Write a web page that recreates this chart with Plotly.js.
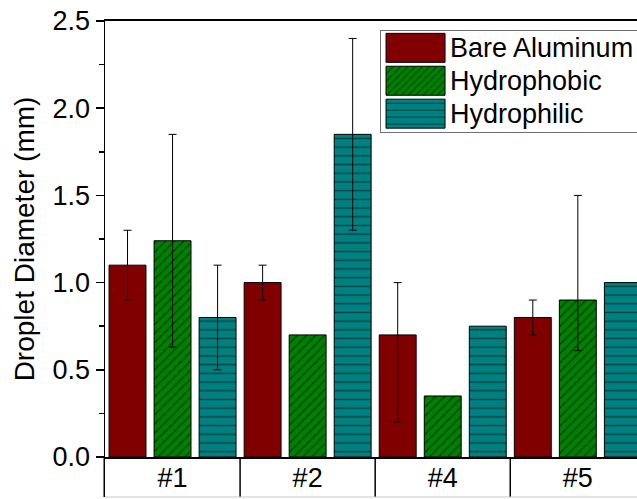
<!DOCTYPE html>
<html><head><meta charset="utf-8">
<script src="https://cdn.plot.ly/plotly-3.0.1.min.js"></script>
<style>html,body{margin:0;padding:0;background:#fff;}</style>
</head><body>
<div id="chart" style="width:637px;height:499px;"></div>
<script>
// ---- data ----
const categories = ['#1', '#2', '#4', '#5'];
const seriesNames = ['Bare Aluminum', 'Hydrophobic', 'Hydrophilic'];
const bareAluminum = [1.10, 1.00, 0.70, 0.80];
const hydrophobic  = [1.24, 0.70, 0.35, 0.90];
const hydrophilic  = [0.80, 1.85, 0.75, 1.00];
const bareErrPlus    = [0.20, 0.10, 0.30, 0.10];
const bareErrMinus   = [0.20, 0.10, 0.50, 0.10];
const phobicErrPlus  = [0.61, NaN, NaN, 0.60];
const phobicErrMinus = [0.61, NaN, NaN, 0.29];
const philicErrPlus  = [0.30, 0.55, NaN, NaN];
const philicErrMinus = [0.30, 0.55, NaN, NaN];
const yTickVals = [0, 0.5, 1.0, 1.5, 2.0, 2.5];
const yTickText = ['0.0', '0.5', '1.0', '1.5', '2.0', '2.5'];

// ---- styling ----
const colors = ['#800000', '#008000', '#008080'];
const patterns = [
  null,
  {shape: '/', fgcolor: '#000000', bgcolor: '#008000', size: 6.4, solidity: 0.2, fillmode: 'overlay'},
  {shape: '-', fgcolor: '#000000', bgcolor: '#008080', size: 8.7, solidity: 0.15, fillmode: 'overlay'}
];
const values = [bareAluminum, hydrophobic, hydrophilic];
const errPlus = [bareErrPlus, phobicErrPlus, philicErrPlus];
const errMinus = [bareErrMinus, phobicErrMinus, philicErrMinus];

const traces = seriesNames.map((name, i) => {
  const marker = {color: colors[i], line: {color: '#000', width: 1}};
  if (patterns[i]) marker.pattern = patterns[i];
  return {
    type: 'bar', name: name, x: categories, y: values[i],
    marker: marker,
    legendgroup: 'g' + i,
    error_y: {type: 'data', symmetric: false, array: errPlus[i], arrayminus: errMinus[i],
              color: '#000', thickness: 1, width: 4},
    hoverinfo: 'skip'
  };
});

const plotH = 499 - 21 - 42;
const boxDepth = 40;
const shapes = [];
// left separator (extension of the y axis below the plot)
shapes.push({type: 'line', xref: 'paper', yref: 'paper', xsizemode: 'pixel', xanchor: 0,
  x0: -0.75, x1: -0.75, y0: 0, y1: -boxDepth / plotH, line: {color: '#000', width: 1.5}});
for (let i = 1; i < categories.length; i++) {
  shapes.push({type: 'line', xref: 'x', yref: 'paper', x0: i - 0.5, x1: i - 0.5,
    y0: 0, y1: -boxDepth / plotH, line: {color: '#000', width: 1.5}});
}
shapes.push({type: 'line', xref: 'paper', yref: 'paper', x0: 0, x1: 1,
  y0: -boxDepth / plotH, y1: -boxDepth / plotH, line: {color: '#c8c8c8', width: 1}});

const layout = {
  width: 637, height: 499,
  margin: {l: 105, r: 0, t: 21, b: 42, autoexpand: false},
  paper_bgcolor: '#ffffff', plot_bgcolor: '#ffffff',
  font: {family: '"Liberation Sans", Arial, sans-serif', color: '#000'},
  barmode: 'group', bargap: 0, bargroupgap: 0.18,
  showlegend: true,
  legend: {x: 0.517, y: (457 - 25.4) / plotH, xanchor: 'left', yanchor: 'top', bgcolor: '#ffffff',
    bordercolor: '#707070', borderwidth: 1, font: {size: 23}, itemwidth: 59,
    traceorder: 'grouped', tracegroupgap: 0},
  xaxis: {type: 'category', range: [-0.5, categories.length - 0.562], showline: true,
    linecolor: '#000', linewidth: 2, mirror: true, ticks: '', showgrid: false, zeroline: false,
    tickfont: {size: 27}, ticklabelstandoff: -4, fixedrange: true},
  yaxis: {range: [0, 2.5], tickmode: 'array', tickvals: yTickVals, ticktext: yTickText,
    ticks: 'outside', ticklen: 8, tickwidth: 1.5, tickcolor: '#000',
    showline: true, linecolor: '#000', linewidth: 1.5, showgrid: false, zeroline: false,
    minor: {tickmode: 'array', tickvals: [0.25, 0.75, 1.25, 1.75, 2.25], ticks: 'outside', ticklen: 5, tickwidth: 1.5, tickcolor: '#000', showgrid: false},
    tickfont: {size: 27}, title: {text: 'Droplet Diameter (mm)', font: {size: 28}, standoff: 10},
    fixedrange: true},
  shapes: shapes
};

Plotly.newPlot('chart', traces, layout, {displayModeBar: false, staticPlot: true}).then(gd => {
  gd.querySelectorAll('.legend .legendpoints path').forEach(p => {
    p.setAttribute('d', 'M29.5,14.5H-29.5V-14.5H29.5Z');
  });
  gd.querySelectorAll('.legend text.legendtext').forEach(t => {
    t.style.fontSize = '27px';
  });
  const bg = gd.querySelector('.legend rect.bg');
  if (bg) {
    const y0 = parseFloat(bg.getAttribute('y')) || 0;
    bg.setAttribute('y', y0 + 4.6);
    bg.setAttribute('height', 101.5);
    bg.setAttribute('width', 400);
  }
  gd.querySelectorAll('.legend .scrollbox').forEach(s => s.removeAttribute('clip-path'));
  gd.querySelectorAll('.legend clipPath rect').forEach(r => r.setAttribute('width', 400));
});
</script>
</body></html>
